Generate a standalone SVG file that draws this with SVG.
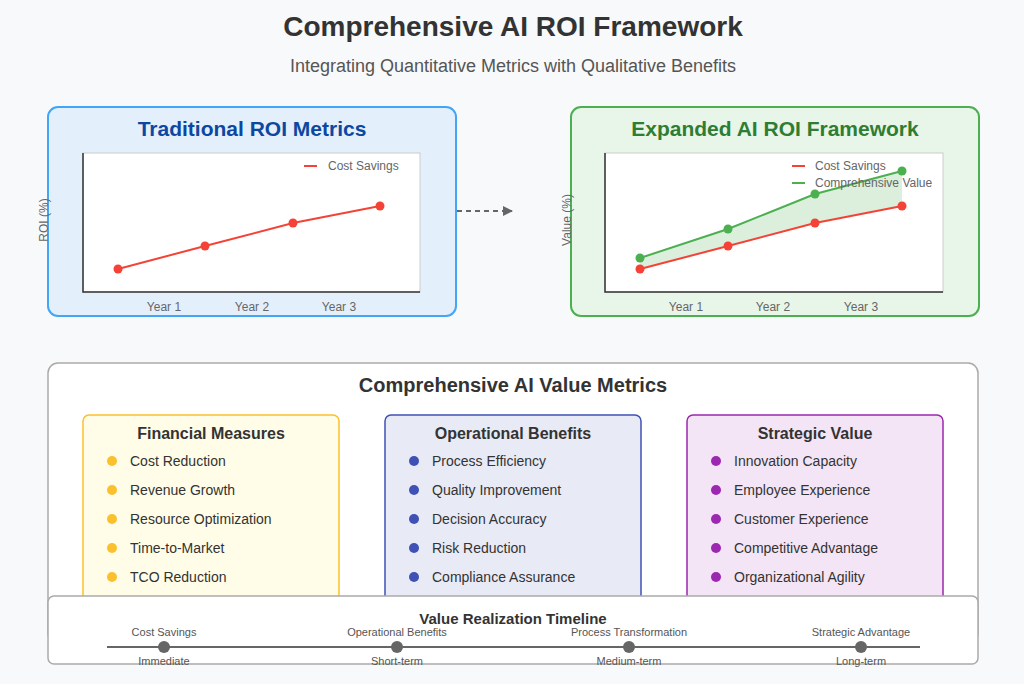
<svg xmlns="http://www.w3.org/2000/svg" width="1024" height="684" viewBox="0 0 1024 684">
<defs>
<style>
text{font-family:"Liberation Sans",Arial,sans-serif}
.h{font-weight:bold;text-anchor:middle}
.ax{font-size:12px;fill:#666;text-anchor:middle}
.lg{font-size:12px;fill:#666}
.it{font-size:14px;fill:#333}
.tl{font-size:11px;fill:#555;text-anchor:middle}
</style>
<marker id="ar" markerWidth="10" markerHeight="10" refX="9" refY="5" orient="auto" markerUnits="userSpaceOnUse"><path d="M0,0L10,5L0,10Z" fill="#666"/></marker>
</defs>
<rect width="1024" height="684" fill="#f8f9fa"/>
<text x="513" y="36" class="h" font-size="28" fill="#333">Comprehensive AI ROI Framework</text>
<text x="513" y="72" font-size="18" fill="#555" text-anchor="middle">Integrating Quantitative Metrics with Qualitative Benefits</text>

<g id="traditional">
<rect x="48" y="107" width="408" height="209" rx="10" fill="#e3f0fb" stroke="#42a5f5" stroke-width="2"/>
<text x="252" y="136" class="h" font-size="21" fill="#0d47a1">Traditional ROI Metrics</text>
<rect x="83" y="153" width="337" height="139" fill="#fff" stroke="#ccc"/>
<path d="M83,153V292H420" fill="none" stroke="#333" stroke-width="1.5"/>
<polyline points="118,269 205,246 293,223 380,206" fill="none" stroke="#f44336" stroke-width="2"/>
<g fill="#f44336"><circle cx="118" cy="269" r="4.5"/><circle cx="205" cy="246" r="4.5"/><circle cx="293" cy="223" r="4.5"/><circle cx="380" cy="206" r="4.5"/></g>
<line x1="304" y1="166" x2="317" y2="166" stroke="#f44336" stroke-width="2"/>
<text x="328" y="170" class="lg">Cost Savings</text>
<text x="164" y="311" class="ax">Year 1</text><text x="252" y="311" class="ax">Year 2</text><text x="339" y="311" class="ax">Year 3</text>
<text transform="translate(48,220) rotate(-90)" class="ax">ROI (%)</text>
</g>

<g id="connectors">
<line x1="457" y1="211" x2="512" y2="211" stroke="#666" stroke-width="2" stroke-dasharray="5,4" marker-end="url(#ar)"/>
</g>

<g id="expanded">
<rect x="571" y="107" width="408" height="209" rx="10" fill="#e8f5e9" stroke="#4caf50" stroke-width="2"/>
<text x="775" y="136" class="h" font-size="21" fill="#2e7d32">Expanded AI ROI Framework</text>
<rect x="605" y="153" width="338" height="139" fill="#fff" stroke="#ccc"/>
<path d="M605,153V292H943" fill="none" stroke="#333" stroke-width="1.5"/>
<polygon points="640,258 728,229 815,194 902,171 902,206 815,223 728,246 640,269" fill="#4caf50" fill-opacity="0.2"/>
<polyline points="640,269 728,246 815,223 902,206" fill="none" stroke="#f44336" stroke-width="2"/>
<polyline points="640,258 728,229 815,194 902,171" fill="none" stroke="#4caf50" stroke-width="2"/>
<g fill="#f44336"><circle cx="640" cy="269" r="4.5"/><circle cx="728" cy="246" r="4.5"/><circle cx="815" cy="223" r="4.5"/><circle cx="902" cy="206" r="4.5"/></g>
<g fill="#4caf50"><circle cx="640" cy="258" r="4.5"/><circle cx="728" cy="229" r="4.5"/><circle cx="815" cy="194" r="4.5"/><circle cx="902" cy="171" r="4.5"/></g>
<line x1="792" y1="166" x2="805" y2="166" stroke="#f44336" stroke-width="2"/>
<text x="815" y="170" class="lg">Cost Savings</text>
<line x1="792" y1="183" x2="805" y2="183" stroke="#4caf50" stroke-width="2"/>
<text x="815" y="187" class="lg">Comprehensive Value</text>
<text x="686" y="311" class="ax">Year 1</text><text x="773" y="311" class="ax">Year 2</text><text x="861" y="311" class="ax">Year 3</text>
<text transform="translate(571,220) rotate(-90)" class="ax">Value (%)</text>
</g>

<g id="value-metrics">
<rect x="48" y="363" width="930" height="280" rx="10" fill="#fff" stroke="#aaa" stroke-width="1.5"/>
<text x="513" y="392" class="h" font-size="20" fill="#333">Comprehensive AI Value Metrics</text>
</g>

<g id="financial">
<rect x="83" y="415" width="256" height="200" rx="6" fill="#fffde7" stroke="#fbc02d" stroke-width="1.5"/>
<text x="211" y="439" class="h" font-size="16" fill="#333">Financial Measures</text>
<g fill="#fbc02d"><circle cx="112" cy="461" r="5"/><circle cx="112" cy="490" r="5"/><circle cx="112" cy="519" r="5"/><circle cx="112" cy="548" r="5"/><circle cx="112" cy="577" r="5"/></g>
<text x="130" y="466" class="it">Cost Reduction</text><text x="130" y="495" class="it">Revenue Growth</text><text x="130" y="524" class="it">Resource Optimization</text><text x="130" y="553" class="it">Time-to-Market</text><text x="130" y="582" class="it">TCO Reduction</text>
</g>

<g id="operational">
<rect x="385" y="415" width="256" height="200" rx="6" fill="#e8eaf6" stroke="#3f51b5" stroke-width="1.5"/>
<text x="513" y="439" class="h" font-size="16" fill="#333">Operational Benefits</text>
<g fill="#3f51b5"><circle cx="414" cy="461" r="5"/><circle cx="414" cy="490" r="5"/><circle cx="414" cy="519" r="5"/><circle cx="414" cy="548" r="5"/><circle cx="414" cy="577" r="5"/></g>
<text x="432" y="466" class="it">Process Efficiency</text><text x="432" y="495" class="it">Quality Improvement</text><text x="432" y="524" class="it">Decision Accuracy</text><text x="432" y="553" class="it">Risk Reduction</text><text x="432" y="582" class="it">Compliance Assurance</text>
</g>

<g id="strategic">
<rect x="687" y="415" width="256" height="200" rx="6" fill="#f3e5f5" stroke="#9c27b0" stroke-width="1.5"/>
<text x="815" y="439" class="h" font-size="16" fill="#333">Strategic Value</text>
<g fill="#9c27b0"><circle cx="716" cy="461" r="5"/><circle cx="716" cy="490" r="5"/><circle cx="716" cy="519" r="5"/><circle cx="716" cy="548" r="5"/><circle cx="716" cy="577" r="5"/></g>
<text x="734" y="466" class="it">Innovation Capacity</text><text x="734" y="495" class="it">Employee Experience</text><text x="734" y="524" class="it">Customer Experience</text><text x="734" y="553" class="it">Competitive Advantage</text><text x="734" y="582" class="it">Organizational Agility</text>
</g>

<g id="timeline">
<rect x="48" y="596" width="930" height="68" rx="6" fill="#fff" stroke="#aaa" stroke-width="1.5"/>
<text x="513" y="624" class="h" font-size="15" fill="#333">Value Realization Timeline</text>
<line x1="107" y1="647" x2="920" y2="647" stroke="#666" stroke-width="2"/>
<g fill="#666"><circle cx="164" cy="647" r="6"/><circle cx="397" cy="647" r="6"/><circle cx="629" cy="647" r="6"/><circle cx="861" cy="647" r="6"/></g>
<text x="164" y="636" class="tl">Cost Savings</text><text x="397" y="636" class="tl">Operational Benefits</text><text x="629" y="636" class="tl">Process Transformation</text><text x="861" y="636" class="tl">Strategic Advantage</text>
<text x="164" y="665" class="tl">Immediate</text><text x="397" y="665" class="tl">Short-term</text><text x="629" y="665" class="tl">Medium-term</text><text x="861" y="665" class="tl">Long-term</text>
</g>
</svg>
